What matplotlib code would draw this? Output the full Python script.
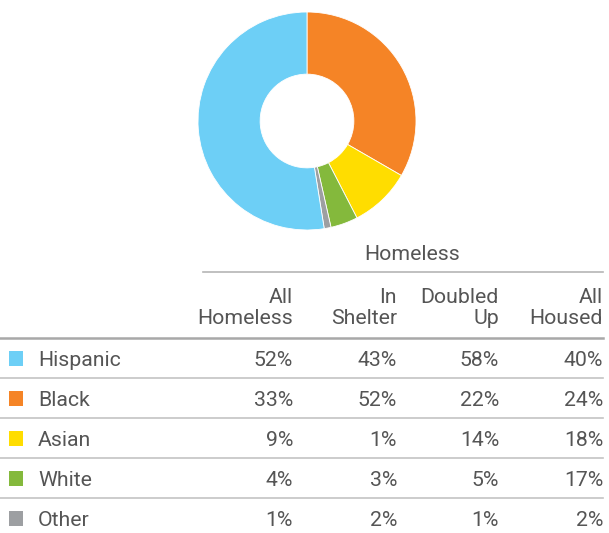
import matplotlib
matplotlib.use("Agg")
import matplotlib.pyplot as plt
from matplotlib.patches import Rectangle

plt.rcParams['font.family'] = ['Roboto', 'DejaVu Sans']

categories = ["Hispanic", "Black", "Asian", "White", "Other"]
colors = ["#6dcff6", "#f58426", "#ffdd00", "#84b93c", "#9d9fa2"]
columns = ["All\nHomeless", "In\nShelter", "Doubled\nUp", "All\nHoused"]
all_homeless = [52, 33, 9, 4, 1]
in_shelter = [43, 52, 1, 3, 2]
doubled_up = [58, 22, 14, 5, 1]
all_housed = [40, 24, 18, 17, 2]

W, H = 609, 533
fig = plt.figure(figsize=(W / 100, H / 100), dpi=100)
ax = fig.add_axes([0, 0, 1, 1])
ax.set_xlim(0, W)
ax.set_ylim(H, 0)
ax.axis("off")

# Donut
cx, cy, r = 307, 121, 109
axp = fig.add_axes([(cx - r) / W, (H - cy - r) / H, 2 * r / W, 2 * r / H])
order = [1, 2, 3, 4, 0]
axp.pie([all_homeless[i] for i in order], colors=[colors[i] for i in order],
        startangle=90, counterclock=False, radius=1,
        wedgeprops=dict(width=0.57, edgecolor="white", linewidth=0.6))
axp.set_xlim(-1, 1)
axp.set_ylim(-1, 1)
axp.set_aspect("equal")
axp.axis("off")

txt = "#555555"
fs = 15.3
col_x = [293, 397, 499, 603]

ax.text(412, 255, "Homeless", ha="center", va="center", fontsize=fs, color=txt)
ax.plot([203, 603], [272, 272], color="#b5b5b5", lw=1.2)
for x, c in zip(col_x, columns):
    ax.text(x, 308, c, ha="right", va="center", fontsize=fs, color=txt, linespacing=1.1)
ax.plot([0, 603], [338, 338], color="#a8a8a8", lw=1.8)

rows_y = [359, 399, 439, 479, 519]
data = [all_homeless, in_shelter, doubled_up, all_housed]
for i, (cat, col) in enumerate(zip(categories, colors)):
    y = rows_y[i]
    ax.add_patch(Rectangle((9, y - 8), 14, 15, color=col, lw=0))
    ax.text(38, y + 1, cat, ha="left", va="center", fontsize=fs, color=txt)
    for x, series in zip(col_x, data):
        ax.text(x, y + 1, f"{series[i]}%", ha="right", va="center", fontsize=fs, color=txt)
    if i < len(categories) - 1:
        ax.plot([0, 603], [y + 19, y + 19], color="#c4c4c4", lw=1.2)

fig.savefig("out.png", dpi=100)
